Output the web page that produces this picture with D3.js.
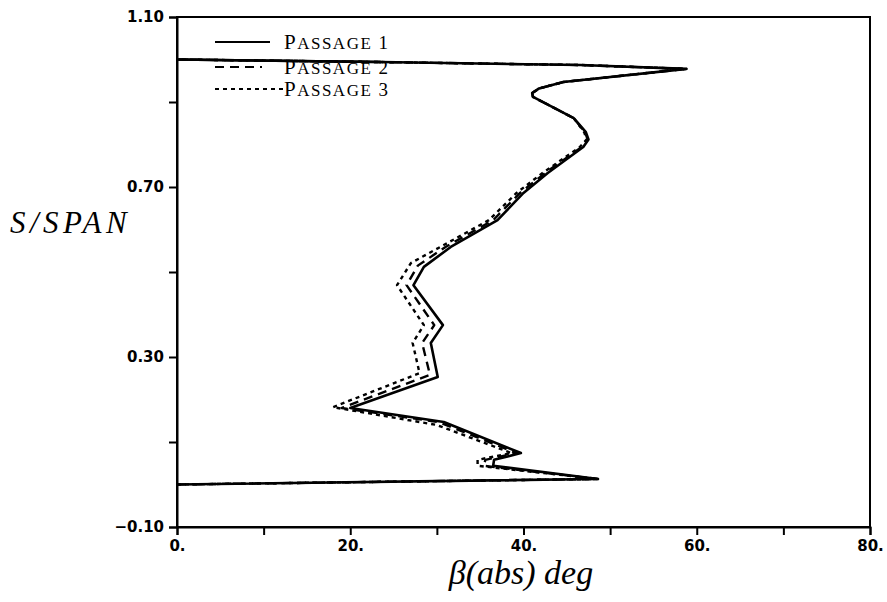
<!DOCTYPE html>
<html>
<head>
<meta charset="utf-8">
<script src="https://cdn.jsdelivr.net/npm/d3@7"></script>
<style>
  body { margin: 0; background: #fff; }
  svg { display: block; }
</style>
</head>
<body>
<svg id="chart" width="887" height="602"></svg>
<script>
// spanwise position (S/SPAN) and flow angle beta (deg) per passage
const span1 = [0.000, 0.013, 0.044, 0.058, 0.074, 0.147, 0.180, 0.253, 0.333, 0.375, 0.469, 0.512, 0.559, 0.622, 0.686, 0.733, 0.794, 0.812, 0.829, 0.862, 0.912, 0.921, 0.932, 0.947, 0.978, 0.987, 0.994, 1.000];
const beta1 = [0, 48.6, 36.5, 36.6, 39.7, 30.8, 20.0, 30.1, 29.3, 30.7, 27.3, 28.5, 31.6, 37.0, 40.0, 42.8, 46.9, 47.5, 47.2, 45.8, 41.1, 41.0, 41.8, 44.6, 58.8, 46.6, 23.5, 0];

const span2 = [0.000, 0.013, 0.044, 0.058, 0.074, 0.147, 0.180, 0.258, 0.333, 0.375, 0.469, 0.515, 0.559, 0.622, 0.686, 0.733, 0.794, 0.812, 0.829, 0.862, 0.912, 0.921, 0.932, 0.947, 0.978, 0.987, 0.994, 1.000];
const beta2 = [0, 48.6, 35.4, 35.6, 39.2, 30.2, 19.0, 29.2, 28.3, 29.7, 26.5, 27.8, 31.0, 36.5, 39.6, 42.5, 46.7, 47.4, 47.1, 45.8, 41.1, 41.0, 41.8, 44.6, 58.8, 46.6, 23.5, 0];

const span3 = [0.000, 0.013, 0.044, 0.058, 0.074, 0.140, 0.182, 0.262, 0.333, 0.375, 0.469, 0.521, 0.559, 0.622, 0.686, 0.733, 0.794, 0.812, 0.829, 0.862, 0.912, 0.921, 0.932, 0.947, 0.978, 0.987, 0.994, 1.000];
const beta3 = [0, 48.6, 34.7, 34.7, 38.6, 30.0, 18.0, 28.0, 27.2, 28.5, 25.4, 27.0, 30.4, 36.0, 39.2, 42.2, 46.5, 47.3, 47.0, 45.8, 41.1, 41.0, 41.8, 44.6, 58.8, 46.6, 23.5, 0];

const seriesNames = ["PASSAGE 1", "PASSAGE 2", "PASSAGE 3"];
const xTickLabels = [0, 20, 40, 60, 80];
const yTickLabels = [-0.10, 0.30, 0.70, 1.10];

const svg = d3.select("#chart");
const margin = {left: 177, right: 17, top: 17, bottom: 75};
const width = 887 - margin.left - margin.right;
const height = 602 - margin.top - margin.bottom;

const x = d3.scaleLinear().domain([0, 80]).range([margin.left, margin.left + width]);
const y = d3.scaleLinear().domain([-0.10, 1.10]).range([margin.top + height, margin.top]);

const series = [
  {name: seriesNames[0], s: span1, b: beta1, dash: null},
  {name: seriesNames[1], s: span2, b: beta2, dash: "9,6"},
  {name: seriesNames[2], s: span3, b: beta3, dash: "4,4"}
];

const line = d3.line()
  .x(function (d) { return x(d[1]); })
  .y(function (d) { return y(d[0]); });

// curves (dotted/dashed first, solid on top)
svg.append("g").selectAll("path")
  .data(series.slice().reverse())
  .enter().append("path")
  .attr("d", function (d) { return line(d.s.map(function (v, i) { return [v, d.b[i]]; })); })
  .attr("fill", "none")
  .attr("stroke", "#000")
  .attr("stroke-width", function (d) { return d.dash ? 2.4 : 2.6; })
  .attr("stroke-linejoin", "round")
  .attr("stroke-dasharray", function (d) { return d.dash; });

// legend: big first letter, smaller caps for the rest
const legend = svg.append("g");
const legendLineY = [42, 67, 89];
const legendTextY = [49, 74, 96];
const legendLineEnd = [270, 262, 283];
series.forEach(function (d, i) {
  const t = legend.append("text")
    .attr("x", 284)
    .attr("y", legendTextY[i])
    .attr("font-family", "Liberation Serif, serif")
    .attr("letter-spacing", 1.5);
  t.append("tspan").attr("font-size", 21).text(d.name.slice(0, 1));
  t.append("tspan").attr("font-size", 17).text(d.name.slice(1, 7));
  t.append("tspan").attr("font-size", 19).text(d.name.slice(7));
  legend.append("line")
    .attr("x1", 215).attr("x2", legendLineEnd[i])
    .attr("y1", legendLineY[i]).attr("y2", legendLineY[i])
    .attr("stroke", "#000")
    .attr("stroke-width", 2)
    .attr("stroke-dasharray", d.dash);
});

// frame
svg.append("rect")
  .attr("x", margin.left).attr("y", margin.top)
  .attr("width", width).attr("height", height)
  .attr("fill", "none").attr("stroke", "#000").attr("stroke-width", 2);

// the wall segment of passage 1 runs over the legend text in the original
svg.append("line")
  .attr("x1", x(0)).attr("x2", x(beta1[beta1.length - 2]))
  .attr("y1", y(1.0)).attr("y2", y(span1[span1.length - 2]))
  .attr("stroke", "#000").attr("stroke-width", 2.6);

// axes
const xAxis = d3.axisBottom(x)
  .tickValues(d3.range(0, 81, 10))
  .tickSize(8)
  .tickFormat(function (d) { return xTickLabels.indexOf(d) >= 0 ? d + "." : ""; });
const gx = svg.append("g")
  .attr("transform", "translate(0," + (margin.top + height) + ")")
  .call(xAxis);

const yAxis = d3.axisLeft(y)
  .tickValues(d3.range(-0.10, 1.11, 0.2).map(function (v) { return Math.round(v * 100) / 100; }))
  .tickSize(8)
  .tickFormat(function (d) {
    const hit = yTickLabels.some(function (t) { return Math.abs(t - d) < 1e-6; });
    return hit ? (d < 0 ? "\u2212" : "") + Math.abs(d).toFixed(2) : "";
  });
const gy = svg.append("g")
  .attr("transform", "translate(" + margin.left + ",0)")
  .call(yAxis);

[gx, gy].forEach(function (g) {
  g.select(".domain").attr("stroke-width", 2);
  g.selectAll(".tick line").attr("stroke-width", 2);
  g.selectAll(".tick text")
    .attr("font-family", "DejaVu Sans, sans-serif")
    .attr("font-weight", "bold")
    .attr("font-size", 15)
    .attr("fill", "#000");
});
gx.selectAll(".tick text").attr("dy", "0.85em");
gy.selectAll(".tick text").attr("x", -13);

// axis titles
svg.append("text")
  .attr("x", 10).attr("y", 233)
  .attr("font-family", "Liberation Serif, serif")
  .attr("font-style", "italic")
  .attr("font-size", 31)
  .attr("letter-spacing", 4.5)
  .text("S/SPAN");

svg.append("text")
  .attr("x", 521).attr("y", 584)
  .attr("text-anchor", "middle")
  .attr("font-family", "Liberation Serif, serif")
  .attr("font-style", "italic")
  .attr("font-size", 34)
  .text("\u03b2(abs) deg");
</script>
</body>
</html>
